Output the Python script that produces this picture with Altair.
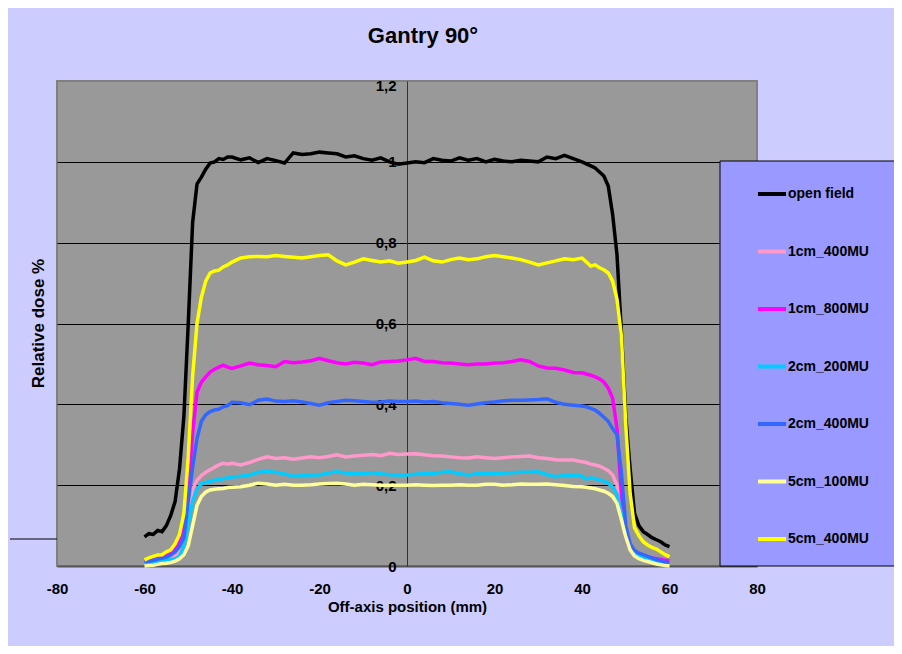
import altair as alt
import pandas as pd

# ---------------- data ----------------
series_names = ["open field", "1cm_400MU", "1cm_800MU", "2cm_200MU",
                "2cm_400MU", "5cm_100MU", "5cm_400MU"]
series_colors = ["#000000", "#FF99CC", "#FF00FF", "#00CCFF",
                 "#3366FF", "#FFFF99", "#FFFF00"]

x_left = [-60, -59, -58, -57, -56, -55, -54, -53, -52, -51, -50,
          -49, -48, -47, -46, -45, -44, -43, -42, -41, -40]
x_mid = [-38, -36, -34, -32, -30, -28, -26, -24, -22, -20, -18, -16, -14,
         -12, -10, -8, -6, -4, -2, 0, 2, 4, 6, 8, 10, 12, 14, 16, 18, 20,
         22, 24, 26, 28, 30, 32, 34, 36, 38]
x_right = [40, 41, 42, 43, 44, 45, 46, 47, 48, 49, 50,
           51, 52, 53, 54, 55, 56, 57, 58, 59, 60]
x_pos = x_left + x_mid + x_right

open_field = (
    [0.072, 0.080, 0.078, 0.088, 0.085, 0.100, 0.125, 0.160, 0.240, 0.370, 0.600,
     0.850, 0.945, 0.962, 0.982, 0.997, 1.000, 1.008, 1.006, 1.012, 1.012]
    + [1.005, 1.010, 0.998, 1.008, 1.003, 0.997, 1.022, 1.018, 1.020, 1.024, 1.022,
       1.020, 1.012, 1.015, 1.008, 1.004, 1.010, 1.000, 0.994, 0.997, 1.000, 0.998,
       1.008, 1.004, 1.002, 1.010, 1.004, 1.008, 1.000, 1.006, 1.002, 1.000, 1.004,
       1.002, 1.000, 1.012, 1.008, 1.016, 1.008]
    + [1.000, 0.995, 0.990, 0.985, 0.975, 0.965, 0.940, 0.870, 0.770, 0.580, 0.370,
       0.240, 0.130, 0.100, 0.085, 0.078, 0.070, 0.065, 0.060, 0.052, 0.048]
)
cm1_400 = (
    [0.008, 0.009, 0.011, 0.013, 0.015, 0.018, 0.021, 0.025, 0.040, 0.070, 0.125,
     0.190, 0.212, 0.224, 0.232, 0.238, 0.244, 0.250, 0.254, 0.252, 0.254]
    + [0.250, 0.256, 0.264, 0.270, 0.266, 0.268, 0.264, 0.267, 0.270, 0.268, 0.271,
       0.275, 0.270, 0.272, 0.274, 0.276, 0.273, 0.279, 0.276, 0.277, 0.278, 0.275,
       0.273, 0.272, 0.270, 0.268, 0.267, 0.270, 0.268, 0.266, 0.268, 0.270, 0.271,
       0.272, 0.268, 0.266, 0.263, 0.262, 0.262]
    + [0.258, 0.256, 0.252, 0.250, 0.247, 0.242, 0.236, 0.225, 0.200, 0.155, 0.085,
       0.050, 0.035, 0.029, 0.025, 0.021, 0.018, 0.016, 0.014, 0.012, 0.011]
)
cm1_800 = (
    [0.011, 0.013, 0.016, 0.020, 0.022, 0.026, 0.032, 0.042, 0.062, 0.100, 0.190,
     0.330, 0.430, 0.455, 0.468, 0.480, 0.487, 0.492, 0.497, 0.492, 0.489]
    + [0.495, 0.502, 0.498, 0.496, 0.493, 0.506, 0.503, 0.505, 0.508, 0.514, 0.508,
       0.503, 0.500, 0.504, 0.502, 0.498, 0.505, 0.506, 0.507, 0.510, 0.514, 0.506,
       0.506, 0.503, 0.502, 0.500, 0.498, 0.500, 0.500, 0.502, 0.503, 0.506, 0.510,
       0.506, 0.495, 0.490, 0.489, 0.485, 0.479]
    + [0.478, 0.475, 0.472, 0.468, 0.463, 0.455, 0.440, 0.415, 0.340, 0.180, 0.070,
       0.042, 0.034, 0.029, 0.025, 0.022, 0.020, 0.018, 0.016, 0.014, 0.013]
)
cm2_200 = (
    [0.006, 0.007, 0.008, 0.010, 0.012, 0.014, 0.016, 0.018, 0.023, 0.050, 0.106,
     0.160, 0.190, 0.203, 0.207, 0.209, 0.212, 0.214, 0.216, 0.218, 0.220]
    + [0.222, 0.225, 0.232, 0.234, 0.232, 0.228, 0.222, 0.223, 0.226, 0.225, 0.230,
       0.233, 0.230, 0.228, 0.229, 0.231, 0.228, 0.226, 0.225, 0.225, 0.227, 0.229,
       0.229, 0.232, 0.233, 0.228, 0.225, 0.228, 0.229, 0.228, 0.230, 0.231, 0.232,
       0.232, 0.233, 0.226, 0.221, 0.224, 0.225]
    + [0.222, 0.215, 0.218, 0.216, 0.213, 0.210, 0.205, 0.195, 0.178, 0.130, 0.080,
       0.048, 0.033, 0.026, 0.022, 0.018, 0.015, 0.012, 0.010, 0.008, 0.007]
)
cm2_400 = (
    [0.011, 0.012, 0.014, 0.017, 0.019, 0.022, 0.027, 0.035, 0.048, 0.070, 0.160,
     0.245, 0.315, 0.358, 0.374, 0.382, 0.386, 0.388, 0.394, 0.397, 0.405]
    + [0.404, 0.399, 0.410, 0.413, 0.408, 0.407, 0.409, 0.406, 0.402, 0.398, 0.404,
       0.407, 0.410, 0.409, 0.407, 0.405, 0.406, 0.408, 0.407, 0.407, 0.408, 0.406,
       0.407, 0.404, 0.402, 0.400, 0.398, 0.401, 0.404, 0.406, 0.409, 0.410, 0.410,
       0.411, 0.412, 0.414, 0.405, 0.400, 0.398]
    + [0.396, 0.394, 0.390, 0.386, 0.378, 0.368, 0.358, 0.340, 0.325, 0.230, 0.100,
       0.055, 0.038, 0.032, 0.028, 0.024, 0.020, 0.016, 0.013, 0.010, 0.008]
)
cm5_100 = (
    [0.000, 0.001, 0.002, 0.004, 0.006, 0.007, 0.009, 0.012, 0.018, 0.028, 0.050,
     0.100, 0.150, 0.172, 0.183, 0.188, 0.190, 0.191, 0.192, 0.194, 0.195]
    + [0.196, 0.200, 0.205, 0.203, 0.200, 0.202, 0.200, 0.200, 0.201, 0.203, 0.204,
       0.205, 0.203, 0.200, 0.202, 0.201, 0.200, 0.200, 0.200, 0.200, 0.201, 0.200,
       0.199, 0.200, 0.200, 0.201, 0.200, 0.200, 0.202, 0.202, 0.200, 0.201, 0.203,
       0.202, 0.202, 0.203, 0.201, 0.199, 0.197]
    + [0.196, 0.195, 0.193, 0.191, 0.188, 0.185, 0.180, 0.172, 0.155, 0.115, 0.072,
       0.040, 0.025, 0.018, 0.014, 0.011, 0.008, 0.005, 0.003, 0.001, 0.000]
)
cm5_400 = (
    [0.015, 0.020, 0.024, 0.027, 0.028, 0.035, 0.040, 0.055, 0.078, 0.130, 0.270,
     0.470, 0.600, 0.665, 0.705, 0.725, 0.730, 0.732, 0.740, 0.745, 0.752]
    + [0.762, 0.765, 0.766, 0.765, 0.768, 0.766, 0.764, 0.762, 0.765, 0.768, 0.770,
       0.755, 0.745, 0.752, 0.760, 0.756, 0.752, 0.755, 0.749, 0.752, 0.756, 0.764,
       0.755, 0.752, 0.758, 0.762, 0.758, 0.760, 0.765, 0.768, 0.765, 0.762, 0.758,
       0.752, 0.745, 0.750, 0.755, 0.760, 0.758]
    + [0.762, 0.752, 0.742, 0.745, 0.738, 0.733, 0.725, 0.705, 0.660, 0.570, 0.350,
       0.180, 0.095, 0.075, 0.060, 0.052, 0.046, 0.042, 0.035, 0.028, 0.023]
)

x_ticks = [-80, -60, -40, -20, 0, 20, 40, 60, 80]
y_ticks = [0, 0.2, 0.4, 0.6, 0.8, 1.0, 1.2]

series_values = [open_field, cm1_400, cm1_800, cm2_200, cm2_400, cm5_100, cm5_400]

rows = []
for name, vals in zip(series_names, series_values):
    for xv, yv in zip(x_pos, vals):
        rows.append({"x": xv, "y": yv, "series": name})
df = pd.DataFrame(rows)

FONT = "Liberation Sans"

# legend background box
legend_box = alt.Chart(pd.DataFrame({"k": [0]})).mark_rect(
    fill="#9999FF", stroke="#000000", strokeWidth=1
).encode(
    x=alt.value(663), x2=alt.value(860), y=alt.value(80), y2=alt.value(485)
)

# small decorative rule at the left edge
left_rule = alt.Chart(pd.DataFrame({"k": [0]})).mark_rule(
    color="#000000", strokeWidth=1
).encode(
    x=alt.value(-47), x2=alt.value(0), y=alt.value(458)
)

lines = alt.Chart(df).mark_line(strokeWidth=3.5).encode(
    x=alt.X(
        "x:Q",
        scale=alt.Scale(domain=[-80, 80], nice=False, zero=False),
        axis=alt.Axis(
            values=x_ticks, grid=False, ticks=False, tickSize=0,
            labelPadding=15, labelFlush=False, labelOverlap=False,
            labelExpr="datum.value < 0 ? '-' + abs(datum.value) : '' + datum.value",
            domainColor="#555555", domainWidth=2,
            labelFontSize=15, labelFontWeight="bold", labelColor="#000000",
            title="Off-axis position (mm)", titleFontSize=15,
            titleFontWeight="bold", titleColor="#000000", titlePadding=3,
        ),
    ),
    y=alt.Y(
        "y:Q",
        scale=alt.Scale(domain=[0, 1.2], nice=False),
        axis=alt.Axis(
            values=y_ticks, offset=-350, ticks=False, labelPadding=11,
            labelFlush=False, labelOverlap=False,
            labelExpr="replace(format(datum.value, '.1~f'), '.', ',')",
            labelBaseline="middle",
            labelOffset={"condition": {"test": "datum.value > 1.1", "value": 4},
                         "value": 0},
            domainColor="#333333", domainWidth=1,
            grid=True, gridWidth=1,
            gridColor={"condition": {"test": "datum.value > 1.1 || datum.value < 0.1",
                                     "value": "transparent"},
                       "value": "#000000"},
            labelFontSize=15, labelFontWeight="bold", labelColor="#000000",
            title="Relative dose %", titleFontSize=17, titleFontWeight="bold",
            titleColor="#000000", titleX=-369, titleY=242, titleAngle=270,
            titleAlign="center", titleBaseline="middle",
        ),
    ),
    color=alt.Color(
        "series:N",
        scale=alt.Scale(domain=series_names, range=series_colors),
        legend=alt.Legend(
            orient="none", legendX=699, legendY=97, title=None,
            symbolType="stroke", symbolSize=784, symbolStrokeWidth=4,
            labelFontSize=14, labelFontWeight="bold", labelColor="#000000",
            labelOffset=0, rowPadding=33.5, padding=0,
        ),
    ),
)

chart = alt.layer(legend_box, left_rule, lines).properties(
    width=700,
    height=485,
    autosize=alt.AutoSizeParams(type="none"),
    padding={"left": 49, "top": 73, "right": 137, "bottom": 80},
    background="#CCCCFF",
    title=alt.TitleParams(
        "Gantry 90°", fontSize=22, fontWeight="bold", color="#000000",
        anchor="middle", offset=30, dx=16, font=FONT,
    ),
).configure(
    font=FONT,
).configure_view(
    fill="#999999", stroke="#808080", strokeWidth=2,
).configure_axis(
    labelFont=FONT, titleFont=FONT,
).configure_legend(
    labelFont=FONT,
)

chart.save("out.html", embed_options={"renderer": "svg", "actions": False})
